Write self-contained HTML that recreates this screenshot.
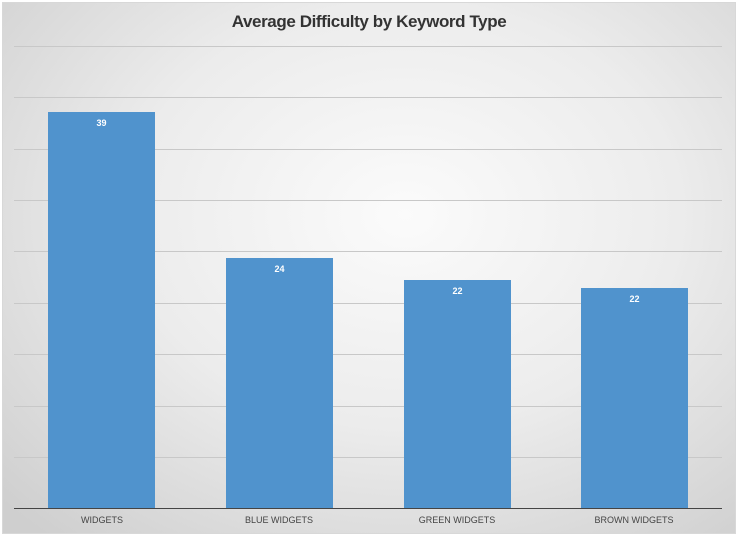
<!DOCTYPE html>
<html><head><style>
html,body{margin:0;padding:0;width:738px;height:536px;overflow:hidden;background:#fff}
#c{position:absolute;left:2px;top:2px;width:732px;height:530px;background:radial-gradient(ellipse 75% 80% at 55% 40%,#fbfbfb 0%,#ececec 50%,#cfcfcf 100%);border:1px solid #d8d8d8}
.g{position:absolute;left:14px;width:708px;height:1px;background:#c8c8c8}
.b{position:absolute;background:#5093cd;width:107px;bottom:28px}
.v{position:absolute;width:107px;text-align:center;color:#fff;font:bold 9px "Liberation Sans",sans-serif}
.l{position:absolute;text-align:center;width:180px;font:9px "Liberation Sans",sans-serif;color:#444;top:515px}
</style></head><body>
<div id="c"></div>
<div style="position:absolute;left:0;top:12px;width:738px;text-align:center;font:bold 17px 'Liberation Sans',sans-serif;color:#333;letter-spacing:-0.4px">Average Difficulty by Keyword Type</div>
<div class="g" style="top:46px"></div><div class="g" style="top:97px"></div><div class="g" style="top:149px"></div><div class="g" style="top:200px"></div><div class="g" style="top:251px"></div><div class="g" style="top:303px"></div><div class="g" style="top:354px"></div><div class="g" style="top:406px"></div><div class="g" style="top:457px"></div>
<div class="b" style="left:48px;top:112px;height:396px"></div>
<div class="b" style="left:226px;top:258px;height:250px"></div>
<div class="b" style="left:404px;top:280px;height:228px"></div>
<div class="b" style="left:581px;top:288px;height:220px"></div>
<div class="v" style="left:48px;top:118px">39</div>
<div class="v" style="left:226px;top:264px">24</div>
<div class="v" style="left:404px;top:286px">22</div>
<div class="v" style="left:581px;top:294px">22</div>
<div style="position:absolute;left:14px;top:508px;width:708px;height:1px;background:#444"></div>
<div class="l" style="left:12px">WIDGETS</div>
<div class="l" style="left:189px">BLUE WIDGETS</div>
<div class="l" style="left:367px">GREEN WIDGETS</div>
<div class="l" style="left:544px">BROWN WIDGETS</div>
</body></html>
